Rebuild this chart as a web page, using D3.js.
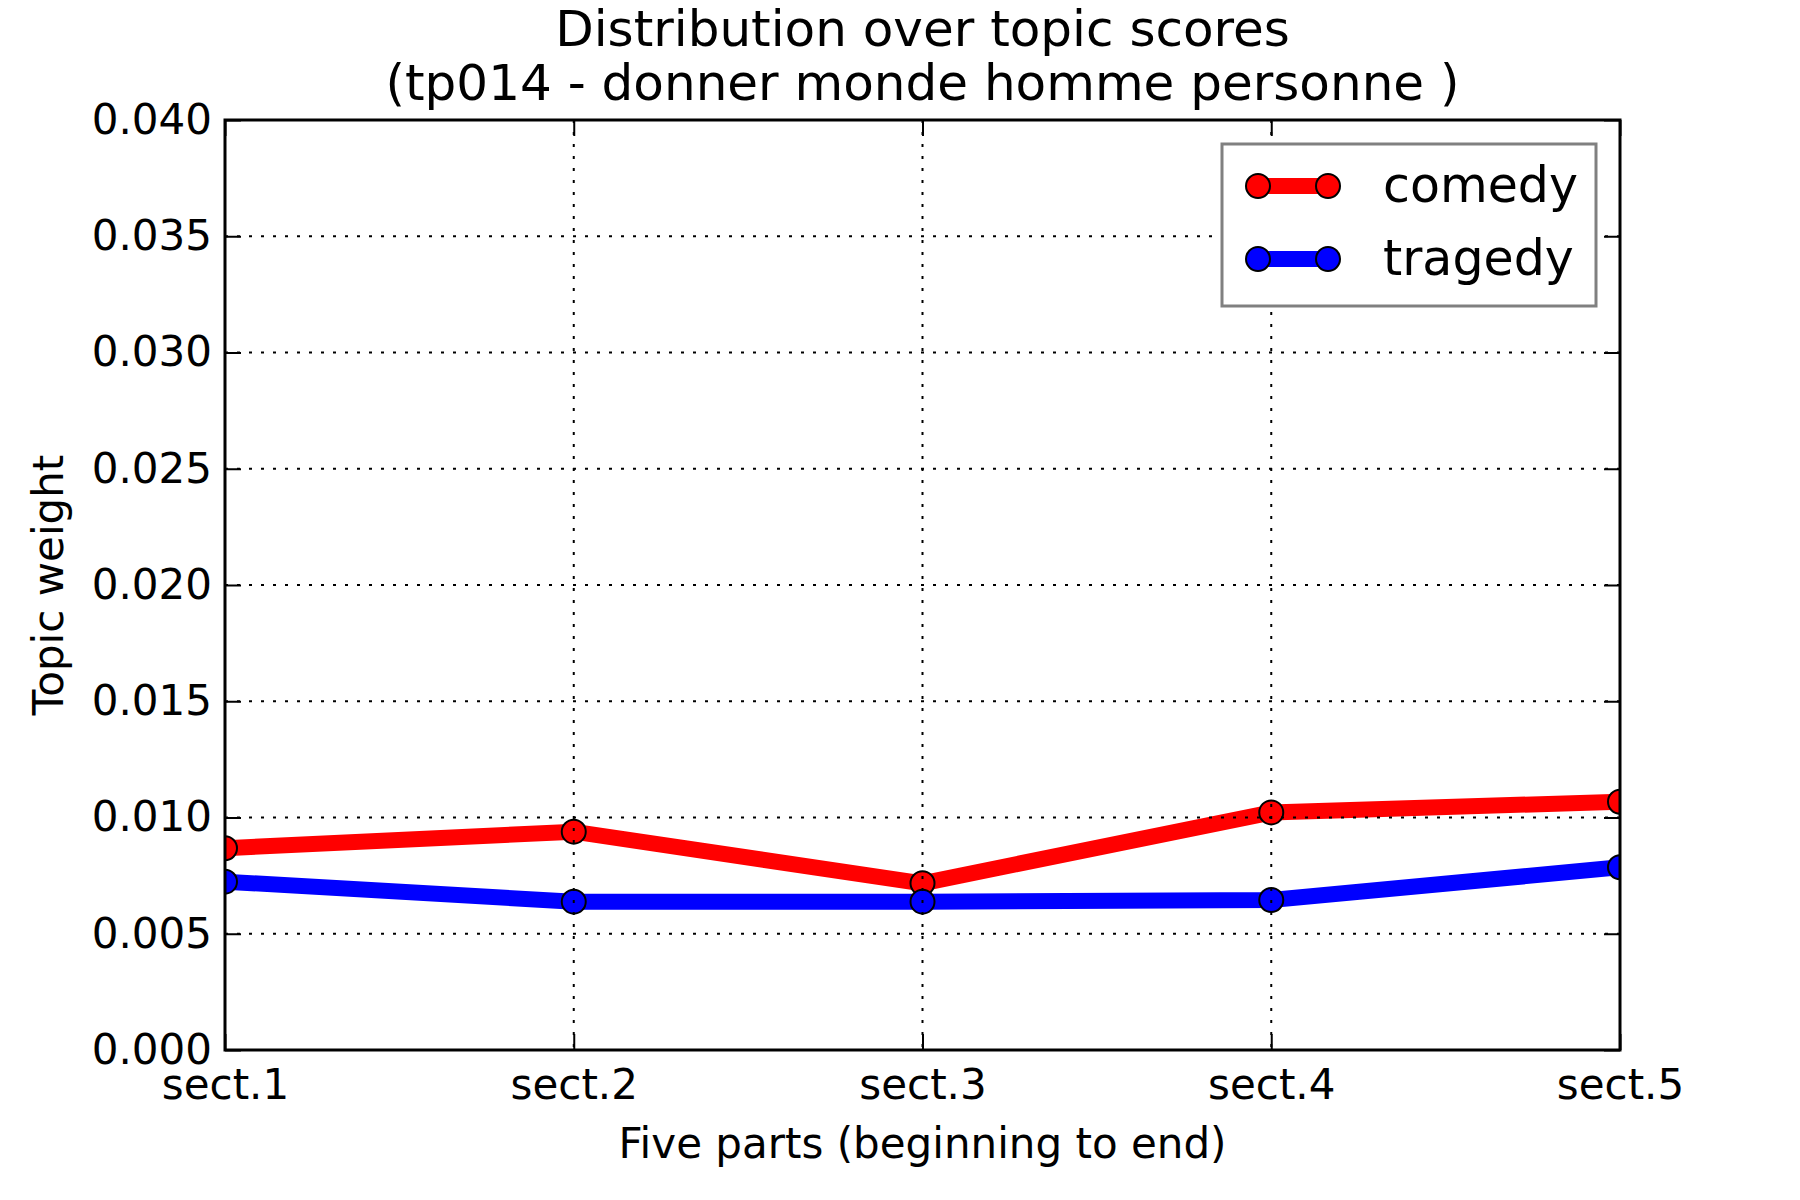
<!DOCTYPE html>
<html>
<head>
<meta charset="utf-8">
<script src="https://cdn.jsdelivr.net/npm/d3@7"></script>
<style>
    body { margin: 0; background: #fff; }
    svg text { font-family: "DejaVu Sans", sans-serif; fill: #000; }
</style>
</head>
<body>
<svg id="chart"></svg>
<script>
    // Data
    const sections = ["sect.1", "sect.2", "sect.3", "sect.4", "sect.5"];
    const comedyValues = [0.00868, 0.00939, 0.00717, 0.01022, 0.01068];
    const tragedyValues = [0.00724, 0.00638, 0.00638, 0.00645, 0.00786];
    const yTicks = [0, 0.005, 0.01, 0.015, 0.02, 0.025, 0.03, 0.035, 0.04];
    const seriesNames = ["comedy", "tragedy"];
    const seriesColors = ["#ff0000", "#0000ff"];

    const titleLines = ["Distribution over topic scores", "(tp014 - donner monde homme personne )"];

    // Size & margins (matplotlib style layout)
    const width = 1800,
        height = 1200,
        margin = { top: 120, right: 180, bottom: 150, left: 225 };

    const svg = d3.select("#chart")
        .attr("width", width)
        .attr("height", height);

    const x = d3.scalePoint()
        .domain(sections)
        .range([margin.left, width - margin.right]);

    const y = d3.scaleLinear()
        .domain([0, 0.04])
        .range([height - margin.bottom, margin.top]);

    const series = seriesNames.map((name, i) => {
        return {
            name: name,
            color: seriesColors[i],
            values: (i === 0 ? comedyValues : tragedyValues).map((v, j) => ({ sect: sections[j], value: v }))
        };
    });

    // Clip lines and markers to the axes
    svg.append("clipPath")
        .attr("id", "plot-clip")
        .append("rect")
        .attr("x", margin.left)
        .attr("y", margin.top)
        .attr("width", width - margin.left - margin.right)
        .attr("height", height - margin.top - margin.bottom);

    const plot = svg.append("g").attr("clip-path", "url(#plot-clip)");

    const line = d3.line()
        .x((d) => x(d.sect))
        .y((d) => y(d.value));

    series.forEach((s) => {
        const g = plot.append("g").attr("class", "series " + s.name);
        g.append("path")
            .datum(s.values)
            .attr("d", line)
            .attr("fill", "none")
            .attr("stroke", s.color)
            .attr("stroke-width", 16)
            .attr("stroke-linejoin", "miter");
        g.selectAll("circle")
            .data(s.values)
            .enter().append("circle")
            .attr("cx", (d) => x(d.sect))
            .attr("cy", (d) => y(d.value))
            .attr("r", 12)
            .attr("fill", s.color)
            .attr("stroke", "#000")
            .attr("stroke-width", 2);
    });

    // Grid (drawn above the lines, like the classic style)
    const grid = svg.append("g").attr("class", "grid");
    grid.selectAll(".gy")
        .data(yTicks)
        .enter().append("line")
        .attr("x1", margin.left)
        .attr("x2", width - margin.right)
        .attr("y1", (d) => y(d))
        .attr("y2", (d) => y(d))
        .attr("stroke", "#000")
        .attr("stroke-width", 2)
        .attr("stroke-dasharray", "3,9");
    grid.selectAll(".gx")
        .data(sections)
        .enter().append("line")
        .attr("x1", (d) => x(d))
        .attr("x2", (d) => x(d))
        .attr("y1", margin.top)
        .attr("y2", height - margin.bottom)
        .attr("stroke", "#000")
        .attr("stroke-width", 2)
        .attr("stroke-dasharray", "3,9");

    // Axes: inward ticks on all four sides
    const tickLen = 16;
    const axisLeft = svg.append("g")
        .attr("transform", "translate(" + margin.left + ",0)")
        .call(d3.axisLeft(y).tickValues(yTicks).tickSizeInner(-tickLen).tickSizeOuter(0)
            .tickPadding(13).tickFormat(d3.format(".3f")));
    const axisRight = svg.append("g")
        .attr("transform", "translate(" + (width - margin.right) + ",0)")
        .call(d3.axisRight(y).tickValues(yTicks).tickSizeInner(-tickLen).tickSizeOuter(0).tickFormat(""));
    const axisBottom = svg.append("g")
        .attr("transform", "translate(0," + (height - margin.bottom) + ")")
        .call(d3.axisBottom(x).tickSizeInner(-tickLen).tickSizeOuter(0).tickPadding(19));
    const axisTop = svg.append("g")
        .attr("transform", "translate(0," + margin.top + ")")
        .call(d3.axisTop(x).tickSizeInner(-tickLen).tickSizeOuter(0).tickFormat(""));

    [axisLeft, axisRight, axisBottom, axisTop].forEach((a) => {
        a.select(".domain").remove();
        a.selectAll(".tick line").attr("stroke", "#000").attr("stroke-width", 2);
        a.selectAll(".tick text")
            .style("font-family", "'DejaVu Sans', sans-serif")
            .style("font-size", "42px")
            .attr("fill", "#000");
    });
    axisBottom.selectAll(".tick text").attr("dy", "0.71em");

    // Frame
    svg.append("rect")
        .attr("x", margin.left)
        .attr("y", margin.top)
        .attr("width", width - margin.left - margin.right)
        .attr("height", height - margin.top - margin.bottom)
        .attr("fill", "none")
        .attr("stroke", "#000")
        .attr("stroke-width", 3);

    // Title
    svg.append("text")
        .attr("x", (margin.left + width - margin.right) / 2)
        .attr("y", 46)
        .attr("text-anchor", "middle")
        .style("font-size", "50px")
        .text(titleLines[0]);
    svg.append("text")
        .attr("x", (margin.left + width - margin.right) / 2)
        .attr("y", 100)
        .attr("text-anchor", "middle")
        .style("font-size", "50px")
        .text(titleLines[1]);

    // Axis labels
    svg.append("text")
        .attr("x", (margin.left + width - margin.right) / 2)
        .attr("y", 1158)
        .attr("text-anchor", "middle")
        .style("font-size", "42px")
        .text("Five parts (beginning to end)");
    svg.append("text")
        .attr("transform", "translate(63," + ((margin.top + height - margin.bottom) / 2) + ") rotate(-90)")
        .attr("text-anchor", "middle")
        .style("font-size", "42px")
        .text("Topic weight");

    // Legend
    const legend = svg.append("g").attr("transform", "translate(1222,144)");
    legend.append("rect")
        .attr("width", 374)
        .attr("height", 162)
        .attr("fill", "#fff")
        .attr("stroke", "#808080")
        .attr("stroke-width", 3);
    const items = legend.selectAll(".legend-item")
        .data(series)
        .enter().append("g")
        .attr("class", "legend-item")
        .attr("transform", (d, i) => "translate(0," + (42 + i * 73) + ")");
    items.append("line")
        .attr("x1", 36)
        .attr("x2", 106)
        .attr("stroke", (d) => d.color)
        .attr("stroke-width", 16);
    items.selectAll("circle")
        .data((d) => [d, d])
        .enter().append("circle")
        .attr("cx", (d, i) => (i === 0 ? 36 : 106))
        .attr("cy", 0)
        .attr("r", 12)
        .attr("fill", (d) => d.color)
        .attr("stroke", "#000")
        .attr("stroke-width", 2);
    items.append("text")
        .attr("x", 161)
        .attr("y", 16)
        .style("font-size", "49px")
        .text((d) => d.name);
</script>
</body>
</html>
